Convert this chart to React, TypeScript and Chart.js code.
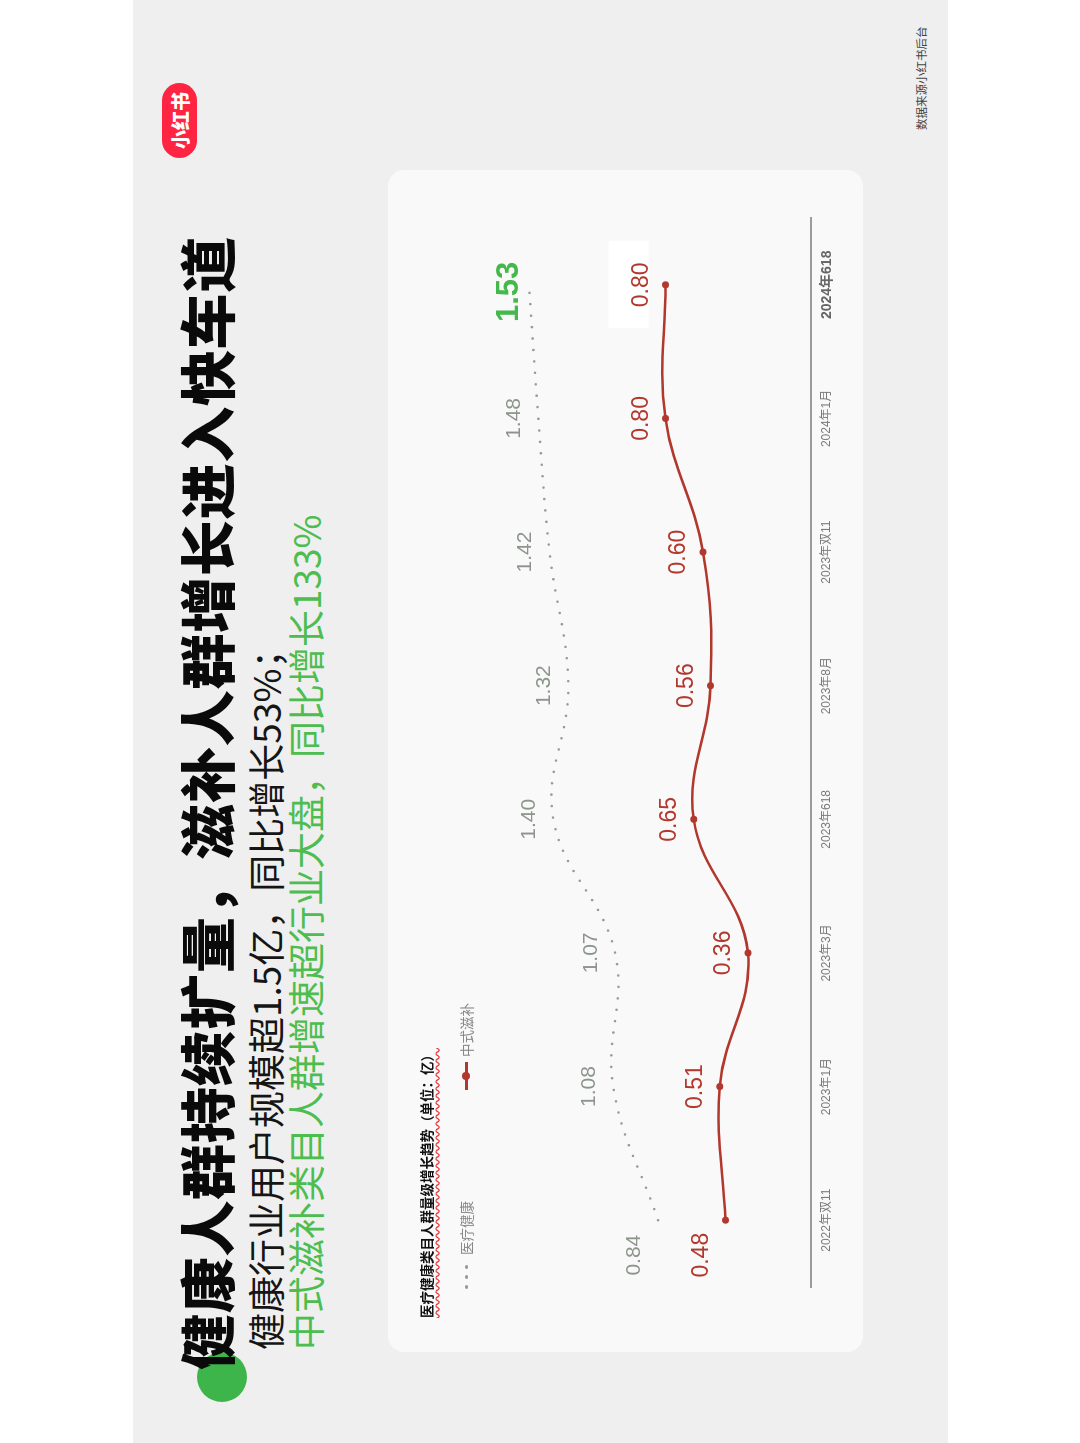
import React, { useEffect, useRef } from 'react';
import { Chart, registerables } from 'chart.js';

Chart.register(...registerables);

// ---- data ----
const categories = ['2022年双11', '2023年1月', '2023年3月', '2023年618', '2023年8月', '2023年双11', '2024年1月', '2024年618'];
const healthValues = [0.84, 1.08, 1.07, 1.40, 1.32, 1.42, 1.48, 1.53]; // 医疗健康
const tonicValues = [0.48, 0.51, 0.36, 0.65, 0.56, 0.60, 0.80, 0.80]; // 中式滋补
const seriesNames = ['医疗健康', '中式滋补'];
const valueMin = 0.023;
const valueMax = 2.23;

const titleText = '健康人群持续扩量，滋补人群增长进入快车道';
const subLine1 = '健康行业用户规模超1.5亿，同比增长53%；';
const subLine2 = '中式滋补类目人群增速超行业大盘，同比增长133%';
const chartTitle = '医疗健康类目人群量级增长趋势（单位：亿）';
const sourceText = '数据来源小红书后台';

const RED = '#b2372d';
const GREEN = '#45b84b';
const FONT = '"Liberation Sans", Arial, "Noto Sans CJK SC", sans-serif';
const CJK = '"Noto Sans CJK SC", "Noto Sans", sans-serif';

const valueLabels = {
  id: 'valueLabels',
  beforeDatasetsDraw(chart: any) {
    const ctx = chart.ctx;
    const meta = chart.getDatasetMeta(1);
    const last = meta.data[meta.data.length - 1];
    if (!last) return;
    ctx.save();
    ctx.fillStyle = '#ffffff';
    ctx.fillRect(last.x - 43, last.y - 57, 87, 40);
    ctx.restore();
  },
  afterDatasetsDraw(chart: any) {
    const ctx = chart.ctx;
    ctx.save();
    ctx.textAlign = 'center';
    ctx.textBaseline = 'middle';
    chart.data.datasets.forEach((ds: any, di: number) => {
      const meta = chart.getDatasetMeta(di);
      meta.data.forEach((pt: any, i: number) => {
        const v = ds.data[i] as number;
        const isLast = i === ds.data.length - 1;
        const dx = i === 0 ? -35 : 0;
        if (di === 0) {
          if (isLast) {
            ctx.font = `bold 31px ${FONT}`;
            ctx.fillStyle = GREEN;
            ctx.fillText(v.toFixed(2), pt.x - 7, pt.y - 20);
          } else {
            ctx.font = `21px ${FONT}`;
            ctx.fillStyle = '#8c948c';
            ctx.fillText(v.toFixed(2), pt.x + dx, pt.y - 24);
          }
        } else {
          ctx.font = `23px ${FONT}`;
          ctx.fillStyle = RED;
          ctx.fillText(v.toFixed(2), pt.x + dx, pt.y - 24);
        }
      });
    });
    ctx.restore();
  },
};

function ChartCanvas() {
  const ref = useRef<HTMLCanvasElement | null>(null);
  useEffect(() => {
    if (!ref.current) return;
    const chart = new Chart(ref.current, {
      type: 'line',
      data: {
        labels: categories,
        datasets: [
          {
            label: seriesNames[0],
            data: healthValues,
            borderColor: '#9a9a9a',
            borderWidth: 2.6,
            borderDash: [0, 11.5],
            borderCapStyle: 'round',
            pointRadius: 0,
            tension: 0.4,
            fill: false,
          },
          {
            label: seriesNames[1],
            data: tonicValues,
            borderColor: RED,
            backgroundColor: RED,
            borderWidth: 2.5,
            pointRadius: 3.5,
            pointBorderWidth: 0,
            pointBackgroundColor: RED,
            tension: 0.4,
            fill: false,
          },
        ],
      } as any,
      options: {
        responsive: false,
        animation: false,
        devicePixelRatio: 1,
        layout: { padding: { left: 65, right: 48, top: 10, bottom: 0 } },
        plugins: { legend: { display: false }, tooltip: { enabled: false } },
        scales: {
          x: {
            type: 'category',
            offset: true,
            grid: { display: false, drawTicks: false },
            border: { display: true, color: '#9c9c9c', width: 2 },
            afterFit: (scale: any) => {
              scale.height = 52;
            },
            ticks: {
              padding: 8,
              autoSkip: false,
              maxRotation: 0,
              color: (c: any) => (c.index === categories.length - 1 ? '#666666' : '#7a7a7a'),
              font: (c: any) =>
                c.index === categories.length - 1
                  ? { size: 14, weight: '600', family: FONT }
                  : { size: 12, family: FONT },
            },
          },
          y: {
            display: false,
            min: valueMin,
            max: valueMax,
          },
        },
      } as any,
      plugins: [valueLabels],
    });
    return () => chart.destroy();
  }, []);
  return <canvas ref={ref} width={1182} height={475} style={{ position: 'absolute', left: 0, top: 0 }} />;
}

const dot = (left: number) => (
  <span style={{ position: 'absolute', left, top: 7.5, width: 3.5, height: 3.5, borderRadius: '50%', background: '#9a9a9a' }} />
);

export default function App() {
  return (
    <div style={{ position: 'absolute', left: 0, top: 0, width: 1080, height: 1443, background: '#ffffff', overflow: 'hidden' }}>
      <div
        style={{
          position: 'absolute',
          left: 133,
          top: 1443,
          width: 1443,
          height: 815,
          background: '#efefef',
          transformOrigin: '0 0',
          transform: 'rotate(-90deg)',
          fontFamily: CJK,
        }}
      >
        <div style={{ position: 'absolute', left: 41, top: 64, width: 50, height: 50, borderRadius: '50%', background: '#3db54a' }} />
        <div
          style={{
            position: 'absolute',
            left: 73,
            top: 42,
            fontSize: 56,
            lineHeight: '60px',
            fontWeight: 900,
            color: '#0a0a0a',
            letterSpacing: 0.7,
            whiteSpace: 'nowrap',
          }}
        >
          {titleText}
        </div>
        <div style={{ position: 'absolute', left: 93, top: 112, fontSize: 37, lineHeight: '40px', color: '#151515', whiteSpace: 'nowrap' }}>
          {subLine1}
        </div>
        <div style={{ position: 'absolute', left: 93, top: 152, fontSize: 37, lineHeight: '40px', color: '#4dbd4f', whiteSpace: 'nowrap' }}>
          {subLine2}
        </div>
        <div
          style={{
            position: 'absolute',
            left: 1285,
            top: 29,
            width: 75,
            height: 35,
            borderRadius: 18,
            background: '#ff2442',
            color: '#fff',
            fontSize: 19,
            fontWeight: 900,
            lineHeight: '35px',
            textAlign: 'center',
          }}
        >
          小红书
        </div>
        <div style={{ position: 'absolute', left: 1313, top: 781, fontSize: 11.5, lineHeight: '14px', color: '#444', whiteSpace: 'nowrap' }}>
          {sourceText}
        </div>
        <div style={{ position: 'absolute', left: 91, top: 255, width: 1182, height: 475, background: '#f9f9f9', borderRadius: 16, overflow: 'hidden' }}>
          <ChartCanvas />
          <div
            style={{
              position: 'absolute',
              left: 34,
              top: 29,
              fontSize: 13.5,
              lineHeight: '18px',
              fontWeight: 700,
              color: '#111',
              whiteSpace: 'nowrap',
              textDecoration: 'underline wavy #e8333a',
              textUnderlineOffset: 3,
            }}
          >
            {chartTitle}
          </div>
          <div style={{ position: 'absolute', left: 63, top: 69, width: 26, height: 18 }}>
            {dot(0)}
            {dot(10)}
            {dot(20)}
          </div>
          <div style={{ position: 'absolute', left: 97, top: 69, fontSize: 13.5, lineHeight: '18px', color: '#888', whiteSpace: 'nowrap' }}>
            {seriesNames[0]}
          </div>
          <div style={{ position: 'absolute', left: 262, top: 69, height: 18, display: 'flex', alignItems: 'center', fontSize: 13.5, color: '#888', whiteSpace: 'nowrap' }}>
            <span style={{ position: 'relative', display: 'inline-block', width: 28, height: 3, background: RED }}>
              <span style={{ position: 'absolute', left: 10, top: -2.5, width: 8, height: 8, borderRadius: '50%', background: RED }} />
            </span>
            <span style={{ marginLeft: 5 }}>{seriesNames[1]}</span>
          </div>
        </div>
      </div>
    </div>
  );
}
